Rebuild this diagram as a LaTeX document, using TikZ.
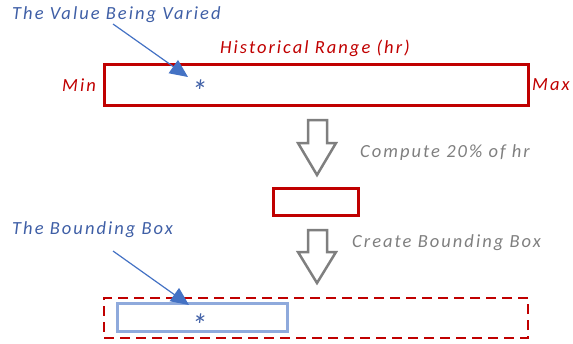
\documentclass[tikz,border=0pt]{standalone}
\usepackage{fontspec}
\setmainfont{Carlito}
\usetikzlibrary{arrows.meta}
\definecolor{hred}{HTML}{C00000}
\definecolor{lblue}{HTML}{4472C4}
\definecolor{tblue}{HTML}{3F5FA6}
\definecolor{pblue}{HTML}{8FAADC}
\definecolor{agray}{HTML}{7F7F7F}
\tikzset{
  lbl/.style={font=\fontsize{18.5}{22}\selectfont\itshape\addfontfeatures{LetterSpace=11}, inner sep=0pt, anchor=west},
  starlbl/.style={font=\fontsize{32}{36}\selectfont\itshape, text=tblue, inner sep=0pt, anchor=base},
  redbox/.style={draw=hred, line width=3pt, inner sep=0pt},
  pointer/.style={draw=lblue, line width=1.2pt, -{Triangle[length=18pt,width=16pt]}},
  hollow/.style={draw=agray, line width=2.5pt, fill=white, line join=miter},
}
\begin{document}
\begin{tikzpicture}[x=1pt,y=-1pt]
\useasboundingbox (0,0) rectangle (573,343);
% top box
\node[redbox, minimum width=424pt, minimum height=41pt, anchor=north west] (hr) at (103,63) {};
\node[lbl, text=hred, anchor=center] (hrlab) at (315,48) {Historical Range (hr)};
\node[lbl, text=hred] (min) at (62,85) {Min};
\node[lbl, text=hred] (max) at (532,85) {Max};
\node[starlbl] (star1) at (199,102) {*};
\node[lbl, text=tblue] (val) at (12,15) {The Value Being Varied};
\coordinate (v0) at (113,24);
\coordinate (v1) at (188,77);
\draw[pointer] (v0) -- (v1);
% first hollow arrow
\draw[hollow] (308,120) -- (327,120) -- (327,143) -- (336,143) -- (317,175) -- (298,143) -- (308,143) -- cycle;
\node[lbl, text=agray] (comp) at (360,153) {Compute 20\% of hr};
% small box
\node[redbox, minimum width=85pt, minimum height=27pt, anchor=north west] (small) at (272,187) {};
% second hollow arrow
\draw[hollow] (308,230) -- (327,230) -- (327,252) -- (336,252) -- (317,283) -- (298,252) -- (308,252) -- cycle;
\node[lbl, text=agray] (create) at (352,243) {Create Bounding Box};
% bottom
\node[lbl, text=tblue] (bb) at (12,230) {The Bounding Box};
\node[draw=hred, line width=2pt, dash pattern=on 10pt off 6pt, minimum width=424pt, minimum height=40pt, anchor=north west, inner sep=0pt] (dbox) at (103,297) {};
\node[draw=pblue, line width=3pt, minimum width=170pt, minimum height=28pt, anchor=north west, inner sep=0pt] (bbox) at (116,302) {};
\node[starlbl] (star2) at (199,336) {*};
\coordinate (b0) at (113,251);
\coordinate (b1) at (189,305);
\draw[pointer] (b0) -- (b1);
\end{tikzpicture}
\end{document}
